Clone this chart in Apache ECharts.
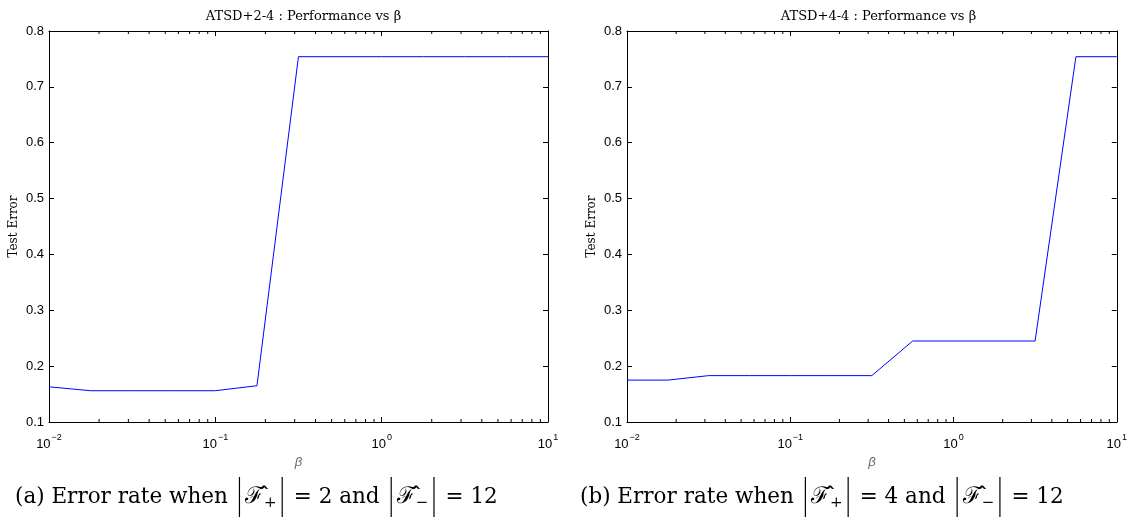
<!DOCTYPE html>
<html>
<head>
<meta charset="utf-8">
<script src="https://cdn.jsdelivr.net/npm/echarts@6/dist/echarts.min.js"></script>
<style>
  html, body { margin: 0; padding: 0; background: #fff; }
  #chart { width: 1130px; height: 527px; }
</style>
</head>
<body>
<div id="chart"></div>
<script>
// beta values sampled on the log axis
var betaValues = [0.01, 0.0178, 0.0316, 0.0562, 0.1, 0.178, 0.316, 0.562, 1, 1.78, 3.16, 5.62, 10];
// test error, ATSD+2-4
var errorA = [0.163, 0.156, 0.156, 0.156, 0.156, 0.165, 0.754, 0.754, 0.754, 0.754, 0.754, 0.754, 0.754];
// test error, ATSD+4-4
var errorB = [0.175, 0.175, 0.183, 0.183, 0.183, 0.183, 0.183, 0.245, 0.245, 0.245, 0.245, 0.754, 0.754];

var titles = ['ATSD+2-4 : Performance vs β', 'ATSD+4-4 : Performance vs β'];
var minorTicks = [];
for (var e = -2; e < 1; e++) {
    for (var m = 2; m <= 9; m++) minorTicks.push(+(m * Math.pow(10, e)).toPrecision(3));
}

var serif = 'DejaVu Serif, Liberation Serif, serif';
var sans = 'Liberation Sans, Arial, sans-serif';

var grids = [
    { left: 49, top: 31, width: 499, height: 391 },
    { left: 627, top: 31, width: 493, height: 391 }
];

function zip(xs, ys) {
    return xs.map(function (x, i) { return [x, ys[i]]; });
}

var xAxes = [], yAxes = [], series = [];
grids.forEach(function (g, i) {
    // bottom axis with labels
    xAxes.push({
        gridIndex: i, type: 'log', logBase: 10, min: 0.01, max: 10, position: 'bottom',
        name: 'β', nameLocation: 'middle', nameGap: 30,
        nameTextStyle: { fontFamily: sans, fontStyle: 'italic', fontSize: 13, color: '#666' },
        axisLine: { show: true, lineStyle: { color: '#000', width: 1 } },
        axisTick: { show: true, inside: true, length: 5, lineStyle: { color: '#000' } },
        splitLine: { show: false },
        axisLabel: {
            color: '#000', margin: 8,
            formatter: function (v) {
                var ex = Math.round(Math.log10(v));
                return '{b|10}{s|' + String(ex).replace('-', '\u2212') + '}';
            },
            rich: {
                b: { fontFamily: sans, fontSize: 13, color: '#000', padding: [8, 0, 0, 0] },
                s: { fontFamily: sans, fontSize: 9, color: '#000', padding: [0, 0, 6, 1] }
            }
        }
    });
    // top mirror axis
    xAxes.push({
        gridIndex: i, type: 'log', logBase: 10, min: 0.01, max: 10, position: 'top',
        axisLine: { show: true, lineStyle: { color: '#000', width: 1 } },
        axisTick: { show: true, inside: true, length: 5, lineStyle: { color: '#000' } },
        axisLabel: { show: false }, splitLine: { show: false }
    });
    yAxes.push({
        gridIndex: i, type: 'value', min: 0.1, max: 0.8, interval: 0.1, position: 'left',
        name: 'Test Error', nameLocation: 'middle', nameGap: 29, nameRotate: 90,
        nameTextStyle: { fontFamily: serif, fontSize: 12, color: '#000' },
        axisLine: { show: true, lineStyle: { color: '#000', width: 1 } },
        axisTick: { show: true, inside: true, length: 5, lineStyle: { color: '#000' } },
        splitLine: { show: false },
        axisLabel: {
            color: '#000', fontFamily: sans, fontSize: 13, margin: 5,
            formatter: function (v) { return v.toFixed(1); }
        }
    });
    yAxes.push({
        gridIndex: i, type: 'value', min: 0.1, max: 0.8, interval: 0.1, position: 'right',
        axisLine: { show: true, lineStyle: { color: '#000', width: 1 } },
        axisTick: { show: true, inside: true, length: 5, lineStyle: { color: '#000' } },
        axisLabel: { show: false }, splitLine: { show: false }
    });
    series.push({
        type: 'line', xAxisIndex: i * 2, yAxisIndex: i * 2,
        data: zip(betaValues, i === 0 ? errorA : errorB),
        showSymbol: false, symbol: 'none',
        lineStyle: { color: '#0000ff', width: 1 },
        animation: false
    });
    // log minor ticks, bottom and top
    series.push({
        type: 'custom', xAxisIndex: i * 2, yAxisIndex: i * 2,
        data: minorTicks.map(function (t) { return [t]; }),
        silent: true, animation: false,
        renderItem: function (params, api) {
            var bot = api.coord([api.value(0), 0.1]);
            var top = api.coord([api.value(0), 0.8]);
            return {
                type: 'group',
                children: [
                    { type: 'line', shape: { x1: bot[0], y1: bot[1], x2: bot[0], y2: bot[1] - 3 },
                      style: { stroke: '#000', lineWidth: 1 } },
                    { type: 'line', shape: { x1: top[0], y1: top[1], x2: top[0], y2: top[1] + 3 },
                      style: { stroke: '#000', lineWidth: 1 } }
                ]
            };
        }
    });
});

function caption(letter, n) {
    return '{t|(' + letter + ') Error rate when}{gap| }{bar| }{sp| }{f|ℱ\u0302}{sub|+}{sp| }{bar| }' +
        '{gap| }{t|= ' + n + ' and}{gap| }{bar| }{sp| }{f|ℱ\u0302}{sub|−}{sp| }{bar| }{gap| }{t|= 12}';
}
var captionRich = {
    t: { fontFamily: serif, fontSize: 21.5, color: '#000' },
    bar: { width: 1.2, height: 40, backgroundColor: '#000', fontSize: 1 },
    sp: { width: 5, fontSize: 1 },
    gap: { width: 11, fontSize: 1 },
    f: { fontFamily: serif, fontSize: 23, color: '#000' },
    sub: { fontFamily: serif, fontSize: 15, color: '#000', padding: [12, 0, 0, 0] }
};

var chart = echarts.init(document.getElementById('chart'));
chart.setOption({
    animation: false,
    title: titles.map(function (t, i) {
        return {
            text: t, left: grids[i].left + grids[i].width / 2, top: 5, textAlign: 'center',
            textStyle: { fontFamily: serif, fontSize: 13, fontWeight: 'normal', color: '#000' }
        };
    }),
    grid: grids,
    xAxis: xAxes,
    yAxis: yAxes,
    series: series,
    graphic: [
        { type: 'text', left: 15, top: 477, style: { text: caption('a', 2), rich: captionRich } },
        { type: 'text', left: 580, top: 477, style: { text: caption('b', 4), rich: captionRich } }
    ]
});
</script>
</body>
</html>
